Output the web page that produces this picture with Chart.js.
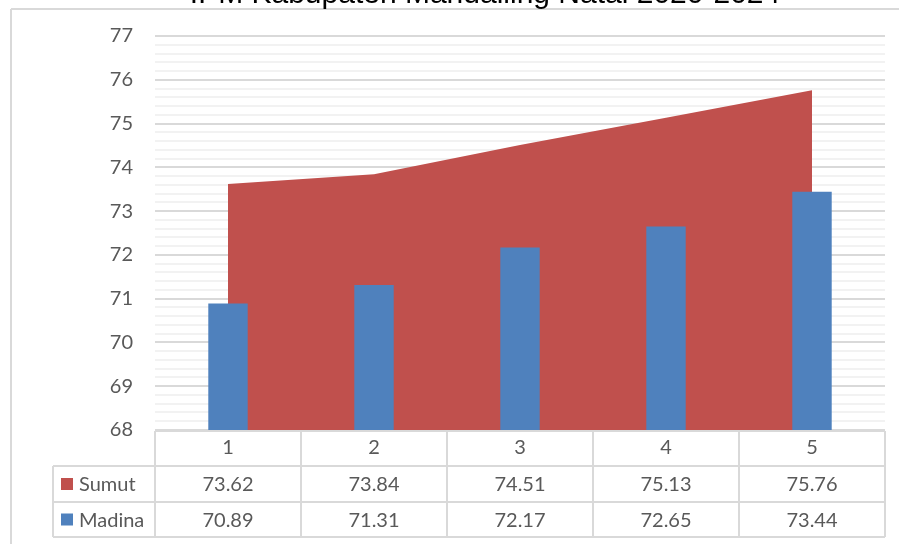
<!DOCTYPE html>
<html>
<head>
<meta charset="utf-8">
<script src="https://cdn.jsdelivr.net/npm/chart.js@4/dist/chart.umd.min.js"></script>
<style>
html,body{margin:0;padding:0;background:#fff;}
#wrap{width:899px;height:544px;position:relative;}
</style>
</head>
<body>
<div id="wrap"><canvas id="c" width="899" height="544"></canvas></div>
<script>
const titleText = "IPM Kabupaten Mandailing Natal 2020-2024";
const categories = ["1", "2", "3", "4", "5"];
const sumut = [73.62, 73.84, 74.51, 75.13, 75.76];
const madina = [70.89, 71.31, 72.17, 72.65, 73.44];
const seriesNames = ["Sumut", "Madina"];
const colors = {sumut: "#C0504D", madina: "#4F81BD"};

const FONT = "Lato, 'Open Sans', sans-serif";
const TXT = "#595959";
const LINE = "#D9D9D9";

const framePlugin = {
  id: "frame",
  beforeDraw(chart) {
    const ctx = chart.ctx;
    ctx.save();
    ctx.fillStyle = "#fff";
    ctx.fillRect(0, 0, chart.width, chart.height);
    ctx.strokeStyle = LINE;
    ctx.lineWidth = 2;
    ctx.beginPath();
    ctx.moveTo(11, 9); ctx.lineTo(chart.width, 9);
    ctx.moveTo(11, 9); ctx.lineTo(11, chart.height);
    ctx.stroke();
    // title (cut off at top)
    ctx.fillStyle = "#000";
    ctx.font = "30px 'Liberation Sans', Arial, sans-serif";
    ctx.textAlign = "center";
    ctx.textBaseline = "alphabetic";
    ctx.fillText(titleText, 485, 3);
    ctx.restore();
  },
  afterDraw(chart) {
    const ctx = chart.ctx;
    const xs = chart.scales.x;
    const area = chart.chartArea;
    const n = categories.length;
    const cw = (area.right - area.left) / n;
    const rowTop = [area.bottom + 1, 466, 502, 537];
    const legendLeft = 53;
    ctx.save();
    ctx.strokeStyle = LINE;
    ctx.lineWidth = 2;
    ctx.beginPath();
    ctx.moveTo(area.left, rowTop[0]); ctx.lineTo(area.right, rowTop[0]);
    for (let r = 1; r < 4; r++) {
      ctx.moveTo(legendLeft, rowTop[r]); ctx.lineTo(area.right, rowTop[r]);
    }
    for (let i = 0; i < n; i++) {
      const xl = xs.getPixelForValue(i) - cw / 2;
      ctx.moveTo(xl, rowTop[0]); ctx.lineTo(xl, rowTop[3]);
    }
    ctx.moveTo(area.right, rowTop[0]); ctx.lineTo(area.right, rowTop[3]);
    ctx.moveTo(legendLeft, rowTop[1]); ctx.lineTo(legendLeft, rowTop[3]);
    ctx.stroke();

    ctx.font = "20px " + FONT;
    ctx.textBaseline = "middle";
    const rows = [sumut, madina];
    const rowColors = [colors.sumut, colors.madina];
    for (let r = 0; r < 2; r++) {
      const cy = (rowTop[r + 1] + rowTop[r + 2]) / 2;
      ctx.textAlign = "center";
      ctx.fillStyle = TXT;
      for (let i = 0; i < n; i++) {
        ctx.fillText(rows[r][i].toFixed(2), xs.getPixelForValue(i), cy + 1);
      }
      ctx.fillStyle = rowColors[r];
      ctx.fillRect(61, cy - 6, 12, 12);
      ctx.fillStyle = TXT;
      ctx.textAlign = "left";
      ctx.fillText(seriesNames[r], 79, cy + 1);
    }
    ctx.restore();
  }
};

const isInt = v => Math.abs(v - Math.round(v)) < 1e-6;

new Chart(document.getElementById("c"), {
  type: "bar",
  data: {
    labels: categories,
    datasets: [
      {
        type: "bar",
        label: seriesNames[1],
        data: madina,
        backgroundColor: colors.madina,
        barPercentage: 0.27,
        categoryPercentage: 1,
        order: 0
      },
      {
        type: "line",
        label: seriesNames[0],
        data: sumut,
        backgroundColor: colors.sumut,
        borderColor: colors.sumut,
        borderWidth: 0,
        pointRadius: 0,
        tension: 0,
        fill: "start",
        order: 1
      }
    ]
  },
  options: {
    responsive: false,
    animation: false,
    devicePixelRatio: 1,
    layout: {padding: {left: 0, top: 36, right: 14, bottom: 0}},
    plugins: {legend: {display: false}, tooltip: {enabled: false}, title: {display: false}},
    scales: {
      x: {
        grid: {display: false, drawTicks: false},
        border: {display: false},
        ticks: {color: TXT, font: {family: FONT, size: 20}, padding: 6},
        afterFit(s) { s.height = 114; }
      },
      y: {
        min: 68, max: 77,
        grid: {
          drawTicks: false,
          color: ctx => isInt(ctx.tick.value) ? "#D9D9D9" : "#F2F2F2",
          lineWidth: 2
        },
        border: {display: false},
        ticks: {
          stepSize: 0.2,
          autoSkip: false,
          color: TXT,
          font: {family: FONT, size: 20},
          padding: 22,
          callback: v => isInt(v) ? String(Math.round(v)) : ""
        },
        afterFit(s) { s.width = 155; }
      }
    }
  },
  plugins: [framePlugin]
});
</script>
</body>
</html>
